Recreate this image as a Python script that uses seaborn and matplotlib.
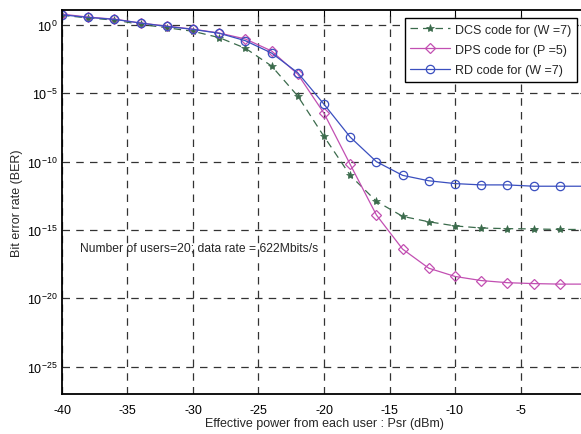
import matplotlib
matplotlib.use("Agg")
import matplotlib.pyplot as plt
import seaborn as sns
import numpy as np
import pandas as pd

# ---- data ----
power_dbm = [-40, -38, -36, -34, -32, -30, -28, -26, -24, -22, -20,
             -18, -16, -14, -12, -10, -8, -6, -4, -2, 0]

ber_dcs = [5.2, 3.3, 2.3, 1.12, 0.63, 0.35, 0.12, 0.02, 1.0e-3, 6.3e-6, 7.0e-9,
           1.0e-11, 1.26e-13, 1.0e-14, 4.0e-15, 2.0e-15, 1.4e-15, 1.26e-15,
           1.2e-15, 1.1e-15, 1.1e-15]

ber_dps = [6.3, 3.8, 2.7, 1.4, 0.83, 0.5, 0.26, 0.095, 0.0126, 2.5e-4, 3.5e-7,
           6.3e-11, 1.26e-14, 4.0e-17, 1.6e-18, 4.0e-19, 2.0e-19, 1.4e-19,
           1.2e-19, 1.1e-19, 1.1e-19]

ber_rd = [5.6, 3.6, 2.6, 1.4, 0.79, 0.48, 0.25, 0.071, 8.9e-3, 3.2e-4, 1.6e-6,
          6.3e-9, 1.0e-10, 1.0e-11, 4.0e-12, 2.5e-12, 2.0e-12, 2.0e-12,
          1.6e-12, 1.6e-12, 1.6e-12]

labels = ["DCS code for (W =7)", "DPS code for (P =5)", "RD code for (W =7)"]
x_ticks = [-40, -35, -30, -25, -20, -15, -10, -5, 0]
y_exps = [0, -5, -10, -15, -20, -25]

sns.set_style("white")
plt.rcParams['font.family'] = ['Liberation Sans', 'DejaVu Sans']
plt.rcParams['mathtext.fontset'] = 'custom'
plt.rcParams['mathtext.rm'] = 'Liberation Sans'
plt.rcParams['mathtext.it'] = 'Liberation Sans'

fig = plt.figure(figsize=(5.81, 4.35), dpi=100)
ax = fig.add_axes([62/581, 40/435, 524/581, 384/435])

c_dcs = "#3b6b4c"
c_dps = "#c24fb2"
c_rd = "#3a4fbf"

sns.lineplot(x=power_dbm, y=ber_dcs, ax=ax, color=c_dcs, linestyle=(0, (6, 4)),
             linewidth=0.9, marker='*', markersize=6, markeredgewidth=0.5,
             markerfacecolor=c_dcs, markeredgecolor=c_dcs, label=labels[0])
sns.lineplot(x=power_dbm, y=ber_dps, ax=ax, color=c_dps, linewidth=0.9,
             marker='D', markersize=5.5, markerfacecolor='none',
             markeredgecolor=c_dps, markeredgewidth=0.9, label=labels[1])
sns.lineplot(x=power_dbm, y=ber_rd, ax=ax, color=c_rd, linewidth=0.9,
             marker='o', markersize=6, markerfacecolor='none',
             markeredgecolor=c_rd, markeredgewidth=0.9, label=labels[2])

ax.set_yscale('log')
ax.set_xlim(-40, 0)
ax.set_ylim(1e-27, 10**1.1)
ax.set_xticks(x_ticks)
ax.set_xticklabels([str(t) for t in x_ticks])
ax.set_yticks([10.0**e for e in y_exps])
ax.set_yticklabels([r"10$^{%d}$" % e for e in y_exps])
ax.yaxis.set_minor_locator(matplotlib.ticker.NullLocator())

ax.grid(True, which='major', color='0.2', linestyle=(0, (6, 5)), linewidth=0.9)
ax.tick_params(direction='in', length=4, width=0.8, top=True, right=True,
               labelsize=9, colors='black')
ax.tick_params(axis='x', pad=7)
ax.tick_params(axis='y', pad=3)
for s in ax.spines.values():
    s.set_color('black')
    s.set_linewidth(1.3)

ax.set_xlabel("Effective power from each user : Psr (dBm)", fontsize=9, labelpad=1)
ax.set_ylabel("Bit error rate (BER)", fontsize=9, labelpad=3)

ax.text(-38.6, 10**-16.3, "Number of users=20; data rate = 622Mbits/s",
        fontsize=8.7, va='center', ha='left')

leg = ax.legend(loc='upper right', bbox_to_anchor=(577/581, 1 - 19/435),
                bbox_transform=fig.transFigure, fontsize=9, frameon=True,
                fancybox=False, framealpha=1, edgecolor='black',
                handlelength=3.2, borderaxespad=0, borderpad=0.45,
                labelspacing=0.65, handletextpad=0.4)
leg.get_frame().set_linewidth(1.0)

fig.savefig("out.png", dpi=100)
